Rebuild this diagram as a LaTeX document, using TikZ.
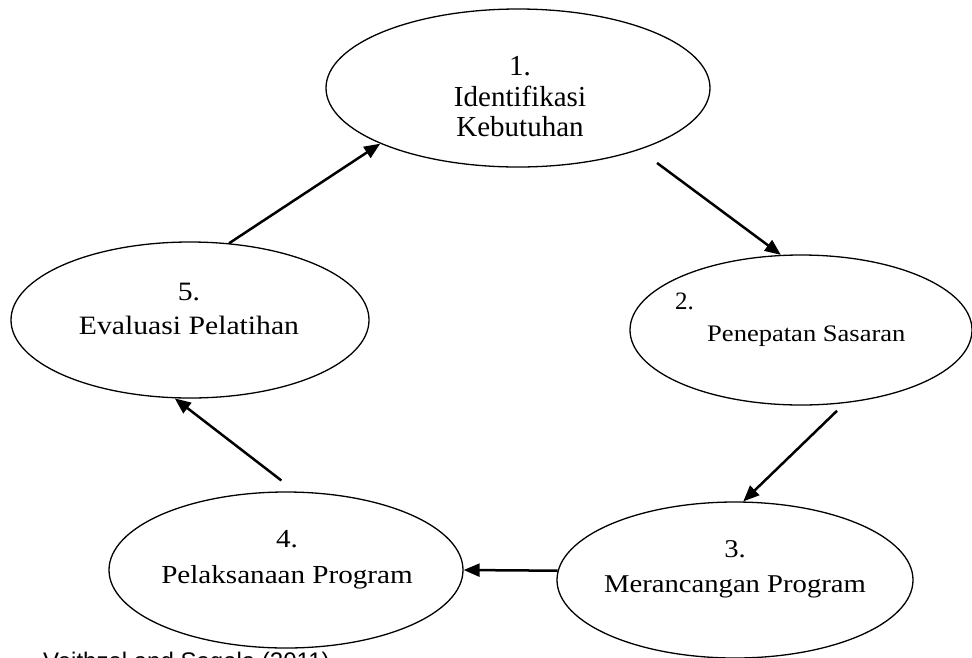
\documentclass[tikz,border=0pt]{standalone}
\usepackage{fontspec}
\setmainfont{Liberation Serif}
\setsansfont{Liberation Sans}
\newfontfamily\widefont[FakeStretch=1.12]{Liberation Serif}
\usetikzlibrary{arrows.meta, positioning, shapes.geometric}
\tikzset{
  oval/.style={draw, ellipse, line width=1.3pt, inner sep=0pt},
  lbl/.style={align=center, inner sep=0pt},
  arr/.style={-{Triangle[length=16pt, width=13pt]}, line width=2.5pt},
}

\begin{document}
\begin{tikzpicture}[x=1pt, y=-1pt]
    \useasboundingbox (0,0) rectangle (972,657);
    \clip (0,0) rectangle (972,657);
    % the five stages
    \node[oval, minimum width=384pt, minimum height=158pt] (e1) at (518,88) {};
    \node[oval, minimum width=342pt, minimum height=150pt] (e2) at (801,330) {};
    \node[oval, minimum width=356pt, minimum height=156pt] (e3) at (735,580) {};
    \node[oval, minimum width=354pt, minimum height=156pt] (e4) at (286,570) {};
    \node[oval, minimum width=358pt, minimum height=156pt] (e5) at (190,320) {};
    \node[lbl, font=\fontsize{29}{30.5}\selectfont] (t1) at (520,97) {1.\\Identifikasi\\Kebutuhan};
    \node[lbl, align=left, anchor=west, font=\widefont\fontsize{23.7}{32}\selectfont] (t2) at (675,320)
      {{\normalfont\fontsize{25}{32}\selectfont 2.}\\\hspace*{32pt}Penepatan Sasaran};
    \node[lbl, font=\widefont\fontsize{25.6}{35}\selectfont] (t3) at (735,569.6) {3.\\Merancangan Program};
    \node[lbl, font=\widefont\fontsize{26}{36}\selectfont] (t4) at (287,560) {4.\\Pelaksanaan Program};
    \node[lbl, font=\widefont\fontsize{26.5}{34}\selectfont] (t5) at (189,309) {5.\\Evaluasi Pelatihan};
    % cycle
    \draw[arr, shorten <=22pt] (e1.-27) -- (e2.105);
    \draw[arr, shorten <=11pt] (e2.-59) -- (e3.84);
    \draw[arr] (e3.177) -- (e4.0);
    \draw[arr, shorten <=18pt] (e4.83) -- (e5.-101);
    \draw[arr] (e5.63) -- (e1.202);
    % source line, cut by the page edge
    \node[font=\sffamily\fontsize{24}{28}\selectfont, anchor=base west, inner sep=0pt] (src) at (43,669) {Veithzal and Sagala (2011)};
\end{tikzpicture}
\end{document}
